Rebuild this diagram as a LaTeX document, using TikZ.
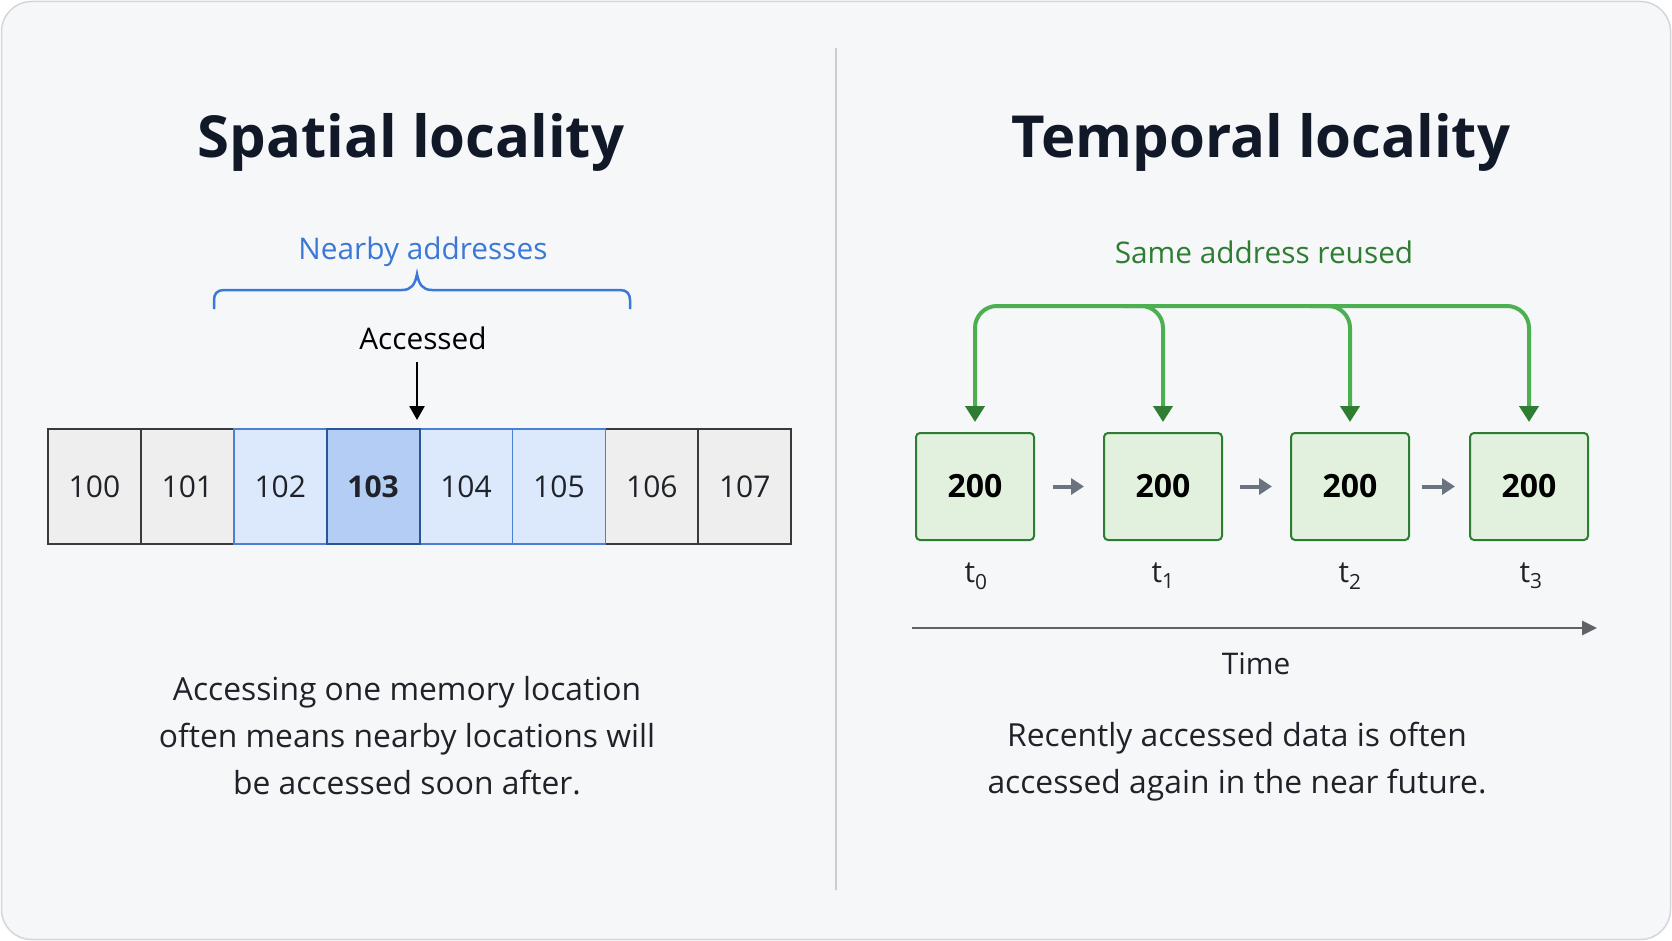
\documentclass[tikz,border=0pt]{standalone}
\usepackage{fontspec}
\setmainfont{Open Sans}
\usetikzlibrary{arrows.meta,calc}
\definecolor{bg}{HTML}{F6F7F9}
\definecolor{frame}{HTML}{D3D6DB}
\definecolor{divider}{HTML}{C9CCD1}
\definecolor{ink}{HTML}{1F2329}
\definecolor{titleink}{HTML}{111827}
\definecolor{nblue}{HTML}{3C78D8}
\definecolor{cellgray}{HTML}{EEEEEF}
\definecolor{cellborder}{HTML}{3A3A3A}
\definecolor{lblue}{HTML}{DCE8FB}
\definecolor{lblueb}{HTML}{4A7FD4}
\definecolor{mblue}{HTML}{B3CDF4}
\definecolor{mblueb}{HTML}{2B5597}
\definecolor{gfill}{HTML}{E2F1DE}
\definecolor{gborder}{HTML}{2E7D32}
\definecolor{gline}{HTML}{4CAF50}
\definecolor{glabel}{HTML}{2E7D32}
\definecolor{arrowgray}{HTML}{6B7280}
\definecolor{axisgray}{HTML}{5F6368}
\tikzset{
  titletext/.style={font=\fontsize{58}{70}\selectfont\bfseries, text=titleink},
  bodytext/.style={font=\fontsize{31.8}{47}\selectfont, text=ink, align=center},
  labeltext/.style={font=\fontsize{29.8}{36}\selectfont},
  cellbox/.style={minimum width=92.9pt, minimum height=115pt, inner sep=0pt, line width=1.8pt,
    font=\fontsize{30}{34}\selectfont, text=ink},
  graycell/.style={cellbox, fill=cellgray, draw=cellborder},
  bluecell/.style={cellbox, fill=lblue, draw=lblueb},
  hotcell/.style={cellbox, fill=mblue, draw=mblueb, font=\fontsize{30}{34}\selectfont\bfseries},
  gbox/.style={minimum width=118pt, minimum height=107pt, inner sep=0pt, line width=2pt,
    fill=gfill, draw=gborder, rounded corners=4pt, font=\fontsize{32}{36}\selectfont\bfseries, text=black},
  gconn/.style={draw=gline, line width=4pt, rounded corners=22pt,
    -{Triangle[length=16pt, width=19pt, color=gborder]}},
  gconnboth/.style={draw=gline, line width=4pt, rounded corners=22pt,
    {Triangle[length=16pt, width=19pt, color=gborder]}-{Triangle[length=16pt, width=19pt, color=gborder]}},
  seqarrow/.style={draw=arrowgray, line width=4pt, -{Triangle[length=13pt, width=16pt]}},
}
\begin{document}
\begin{tikzpicture}[x=1pt,y=-1pt]
\useasboundingbox (0,0) rectangle (1672,941);
\fill[bg, draw=frame, line width=1.5pt, rounded corners=30pt] (1.5,1.5) rectangle (1670.5,939.5);

% divider
\coordinate (dtop) at (836,48);
\coordinate (dbot) at (836,890);
\draw[divider, line width=1.6pt] (dtop) -- (dbot);

% titles
\node[titletext] (t1) at (411,142) {Spatial locality};
\node[titletext] (t2) at (1261,142) {Temporal locality};

% ---- spatial ----
\node[labeltext, text=nblue] (nearby) at (423,252) {Nearby addresses};
\draw[nblue, line width=2.5pt]
  (214,309) -- (214,300) .. controls (214,294) and (217,290) .. (224,290)
  -- (402,290) .. controls (411,290) and (415,285) .. (417,274)
  .. controls (419,285) and (423,290) .. (432,290)
  -- (620,290) .. controls (627,290) and (630,294) .. (630,300) -- (630,309);

\node[labeltext, text=black] (acc) at (423,338) {Accessed};

\node[graycell] (c100) at (94.45,486.5) {100};
\node[graycell] (c101) at (187.35,486.5) {101};
\node[graycell] (c106) at (651.85,486.5) {106};
\node[graycell] (c107) at (744.75,486.5) {107};
\node[bluecell] (c102) at (280.25,486.5) {102};
\node[bluecell] (c104) at (466.05,486.5) {104};
\node[bluecell] (c105) at (558.95,486.5) {105};
\node[hotcell] (c103) at (373.15,486.5) {103};

\coordinate (accstart) at (417,362);
\coordinate (acctip) at (417,420);
\draw[black, line width=2.6pt, -{Triangle[length=14pt, width=15pt]}]
  (accstart) -- (acctip);

\node[bodytext] (sdesc) at (407,736) {Accessing one memory location\\often means nearby locations will\\be accessed soon after.};

% ---- temporal ----
\node[labeltext, text=glabel] (same) at (1264,252) {Same address reused};

\node[gbox] (b0) at (975,486.5) {200};
\node[gbox] (b1) at (1163,486.5) {200};
\node[gbox] (b2) at (1350,486.5) {200};
\node[gbox] (b3) at (1529,486.5) {200};

\coordinate (top) at (1250,306);
\draw[gconnboth] ($(b0.north)+(0,-10)$) |- (b3.north |- top) -- ($(b3.north)+(0,-10)$);
\draw[gconn] ($(b1.north |- top)+(-40,0)$) -| ($(b1.north)+(0,-10)$);
\draw[gconn] ($(b2.north |- top)+(-40,0)$) -| ($(b2.north)+(0,-10)$);

\draw[seqarrow] ($(b0.east)+(18,0)$) -- ($(b1.west)+(-19,0)$);
\draw[seqarrow] ($(b1.east)+(17,0)$) -- ($(b2.west)+(-18,0)$);
\draw[seqarrow] ($(b2.east)+(12,0)$) -- ($(b3.west)+(-14,0)$);

\node[labeltext, text=ink] (tl0) at (976,576) {t\textsubscript{0}};
\node[labeltext, text=ink] (tl1) at (1163,576) {t\textsubscript{1}};
\node[labeltext, text=ink] (tl2) at (1350,576) {t\textsubscript{2}};
\node[labeltext, text=ink] (tl3) at (1531,576) {t\textsubscript{3}};

\coordinate (ts) at (912,628);
\coordinate (te) at (1597,628);
\draw[axisgray, line width=2.6pt, -{Triangle[length=15pt, width=14pt]}] (ts) -- (te);
\node[labeltext, text=ink] (time) at (1256,664) {Time};

\node[bodytext] (tdesc) at (1237,762) {Recently accessed data is often\\accessed again in the near future.};
\end{tikzpicture}
\end{document}
